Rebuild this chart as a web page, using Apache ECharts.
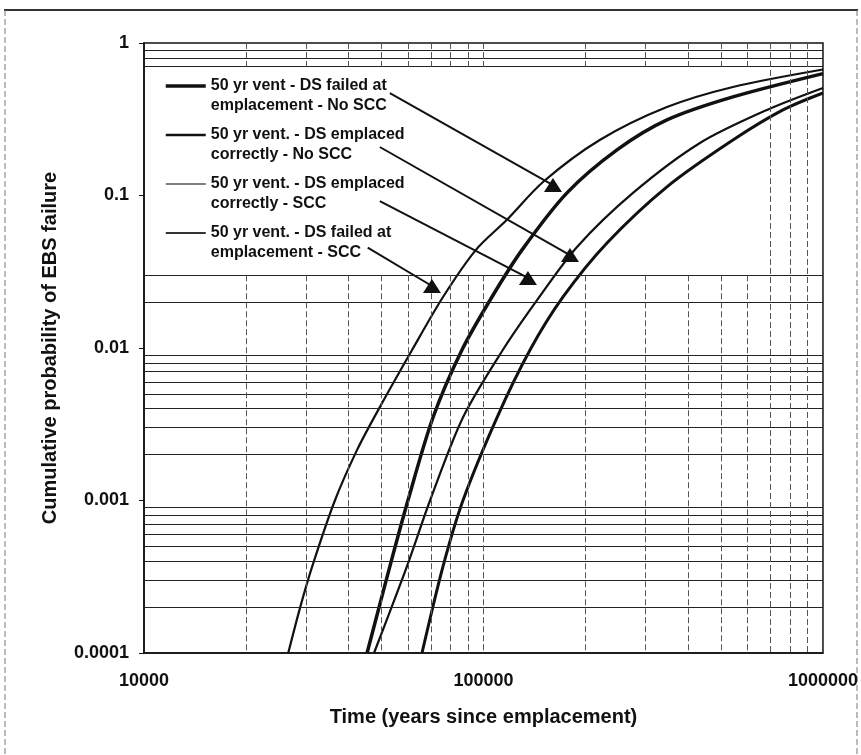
<!DOCTYPE html>
<html>
<head>
<meta charset="utf-8">
<script src="https://cdn.jsdelivr.net/npm/echarts@6/dist/echarts.min.js"></script>
<style>
  html, body { margin: 0; padding: 0; background: #fff; }
  #chart { width: 861px; height: 755px; }
</style>
</head>
<body>
<div id="chart"></div>
<script>
// Scenario names (legend order)
const scenarioNames = [
  '50 yr vent - DS failed at\nemplacement - No SCC',
  '50 yr vent. - DS emplaced\ncorrectly - No SCC',
  '50 yr vent. - DS emplaced\ncorrectly - SCC',
  '50 yr vent. - DS failed at\nemplacement - SCC'
];

// Time since emplacement (years) and cumulative probability of EBS failure
const failedNoSccTime = [45400, 53000, 59900, 71000, 86400, 105900, 129900, 176200, 247300, 347100, 543000, 1000000];
const failedNoSccProb = [0.0001, 0.00037, 0.001, 0.0035, 0.0097, 0.0216, 0.044, 0.104, 0.199, 0.313, 0.443, 0.63];

const correctNoSccTime = [65900, 76000, 87000, 109600, 137100, 171500, 231100, 347100, 543000, 762400, 1000000];
const correctNoSccProb = [0.0001, 0.00037, 0.001, 0.0035, 0.0097, 0.0216, 0.0488, 0.114, 0.231, 0.364, 0.47];

const correctSccTime = [47600, 59500, 69600, 87000, 114000, 143800, 188600, 275700, 434200, 684100, 1000000];
const correctSccProb = [0.0001, 0.00037, 0.001, 0.0035, 0.0097, 0.0206, 0.046, 0.104, 0.221, 0.364, 0.507];

const failedSccTime = [26600, 28800, 31300, 36500, 42400, 48900, 61600, 76000, 95000, 117000, 150000, 220000, 347000, 543000, 1000000];
const failedSccProb = [0.0001, 0.000197, 0.00037, 0.001, 0.00214, 0.0039, 0.0097, 0.0216, 0.044, 0.069, 0.123, 0.231, 0.38, 0.515, 0.67];

// Tick labels
const xTickLabels = ['10000', '100000', '1000000'];
const yTickLabels = ['0.0001', '0.001', '0.01', '0.1', '1'];

// Gridline values
const yGridValues = [0.9, 0.8, 0.7, 0.03, 0.02,
  0.009, 0.008, 0.007, 0.006, 0.005, 0.004, 0.003, 0.002,
  0.0009, 0.0008, 0.0007, 0.0006, 0.0005, 0.0004, 0.0003, 0.0002];
const xGridValues = [20000, 30000, 40000, 50000, 60000, 70000, 80000, 90000, 100000,
  200000, 300000, 400000, 500000, 600000];
const xGridFullValues = [700000, 800000, 900000];
const xGridUpperBand = [1, 0.7];
const xGridLowerBand = [0.03, 0.0001];

// Callout arrows: start and end points (time, probability)
const arrowStartTime = [53000, 49500, 49500, 45600];
const arrowStartProb = [0.47, 0.208, 0.092, 0.0455];
const arrowEndTime = [160200, 179800, 135200, 70500];
const arrowEndProb = [0.117, 0.0407, 0.0288, 0.0255];

const zip = (xs, ys) => xs.map((x, i) => [x, ys[i]]);

const FONT = '"Liberation Sans", Arial, sans-serif';
const INK = '#111';

const gridLineData = [];
yGridValues.forEach(v => gridLineData.push([
  { coord: [10000, v], lineStyle: { type: 'solid', color: '#222', width: 1 } },
  { coord: [1000000, v] }
]));
xGridValues.forEach(v => {
  gridLineData.push([{ coord: [v, xGridUpperBand[0]] }, { coord: [v, xGridUpperBand[1]] }]);
  gridLineData.push([{ coord: [v, xGridLowerBand[0]] }, { coord: [v, xGridLowerBand[1]] }]);
});
xGridFullValues.forEach(v => gridLineData.push([{ coord: [v, 1] }, { coord: [v, 0.0001] }]));

const arrowLines = arrowStartTime.map((t, i) => [
  { coord: [t, arrowStartProb[i]] },
  { coord: [arrowEndTime[i], arrowEndProb[i]] }
]);
const arrowHeads = arrowEndTime.map((t, i) => ({ coord: [t, arrowEndProb[i]] }));

const curveStyles = [
  { width: 3.5, legendWidth: 3.5, legendColor: INK },
  { width: 3, legendWidth: 2.5, legendColor: INK },
  { width: 2.2, legendWidth: 1.6, legendColor: '#555' },
  { width: 2.2, legendWidth: 1.8, legendColor: '#333' }
];

const curveSeries = [
  zip(failedNoSccTime, failedNoSccProb),
  zip(correctNoSccTime, correctNoSccProb),
  zip(correctSccTime, correctSccProb),
  zip(failedSccTime, failedSccProb)
].map((data, i) => ({
  type: 'line',
  name: scenarioNames[i],
  data: data,
  symbol: 'none',
  smooth: 0.3,
  z: 4,
  lineStyle: { color: INK, width: curveStyles[i].width },
  itemStyle: { color: INK },
  animation: false
}));

const chart = echarts.init(document.getElementById('chart'), null, { renderer: 'canvas' });

chart.setOption({
  backgroundColor: '#fff',
  animation: false,
  grid: {
    left: 144, right: 38, top: 43, bottom: 102,
    show: true, borderColor: INK, borderWidth: 1.5, backgroundColor: 'transparent'
  },
  legend: {
    data: scenarioNames.map((name, i) => ({
      name: name,
      lineStyle: { width: curveStyles[i].legendWidth, color: curveStyles[i].legendColor }
    })),
    orient: 'vertical',
    left: 164,
    top: 56,
    padding: 0,
    itemGap: -11,
    itemWidth: 40,
    itemHeight: 14,
    selectedMode: false,
    itemStyle: { opacity: 0 },
    // leading blank line keeps the sample line level with the first text line
    formatter: name => '\n' + name,
    textStyle: {
      fontFamily: FONT, fontSize: 16, fontWeight: 'bold', color: INK,
      lineHeight: 20
    }
  },
  xAxis: {
    type: 'log',
    logBase: 10,
    min: 10000,
    max: 1000000,
    name: 'Time (years since emplacement)',
    nameLocation: 'middle',
    nameGap: 54,
    nameTextStyle: { fontFamily: FONT, fontSize: 20, fontWeight: 'bold', color: INK },
    axisLine: { show: true, lineStyle: { color: INK, width: 1.5 } },
    axisTick: { show: false },
    splitLine: { show: false },
    axisLabel: {
      margin: 19,
      fontFamily: FONT, fontSize: 18, fontWeight: 'bold', color: INK,
      formatter: v => xTickLabels[Math.round(Math.log10(v)) - 4]
    }
  },
  yAxis: {
    type: 'log',
    logBase: 10,
    min: 0.0001,
    max: 1,
    name: 'Cumulative probability of EBS failure',
    nameLocation: 'middle',
    nameGap: 84,
    nameRotate: 90,
    nameTextStyle: { fontFamily: FONT, fontSize: 20, fontWeight: 'bold', color: INK },
    axisLine: { show: true, lineStyle: { color: INK, width: 1.5 } },
    axisTick: { show: true, inside: false, length: 5, lineStyle: { color: INK } },
    splitLine: { show: false },
    axisLabel: {
      margin: 15,
      fontFamily: FONT, fontSize: 18, fontWeight: 'bold', color: INK,
      formatter: v => yTickLabels[Math.round(Math.log10(v)) + 4]
    }
  },
  graphic: [
    { type: 'line', silent: true, shape: { x1: 4, y1: 10, x2: 858, y2: 10 },
      style: { stroke: '#333', lineWidth: 2 } },
    { type: 'line', silent: true, shape: { x1: 5, y1: 10, x2: 5, y2: 755 },
      style: { stroke: '#777', lineWidth: 1, lineDash: [6, 3] } },
    { type: 'line', silent: true, shape: { x1: 857, y1: 10, x2: 857, y2: 755 },
      style: { stroke: '#777', lineWidth: 1, lineDash: [6, 3] } }
  ],
  series: [
    {
      type: 'line',
      name: 'grid',
      data: [],
      z: 1,
      silent: true,
      markLine: {
        silent: true,
        symbol: ['none', 'none'],
        animation: false,
        label: { show: false },
        emphasis: { disabled: true },
        lineStyle: { color: '#555', width: 1, type: [6, 3] },
        data: gridLineData
      }
    },
    ...curveSeries,
    {
      type: 'line',
      name: 'callouts',
      data: [],
      z: 6,
      silent: true,
      markLine: {
        silent: true,
        symbol: ['none', 'none'],
        animation: false,
        label: { show: false },
        emphasis: { disabled: true },
        lineStyle: { color: INK, width: 2, type: 'solid' },
        data: arrowLines
      },
      markPoint: {
        silent: true,
        symbol: 'triangle',
        symbolSize: [18, 14],
        animation: false,
        label: { show: false },
        itemStyle: { color: INK },
        data: arrowHeads
      }
    }
  ]
});
</script>
</body>
</html>
